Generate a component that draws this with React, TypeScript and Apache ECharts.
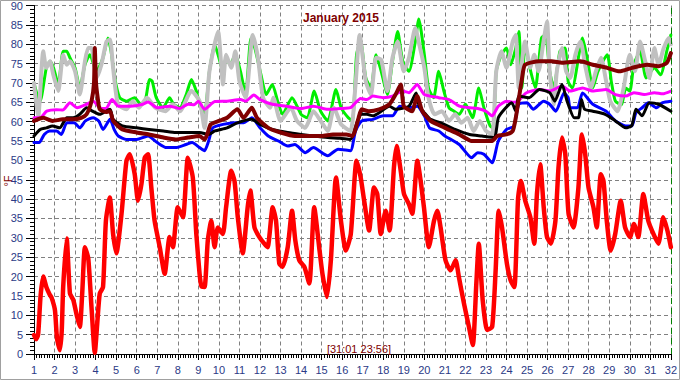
import React, { useEffect, useRef } from "react";
import * as echarts from "echarts";

const titleText = "January 2015";
const stampText = "[31:01 23:56]";
const unitText = "°F";

// [day, °F]
const greenSeries: [number, number][] = [
  [1.0, 70], [1.15, 67], [1.3, 65.3], [1.6, 73.9], [1.78, 75.6], [1.95, 73.9], [2.18, 69.6], [2.42, 78.2], [2.59, 78.2], [2.75, 76.5],
  [3.0, 73.9], [3.23, 68.7], [3.48, 74.7], [3.72, 77.3], [4.04, 73], [4.36, 76.5], [4.6, 81.6], [4.75, 78.2], [4.93, 71.3], [5.17, 66.2],
  [5.5, 65.3], [5.9, 66.2], [6.2, 64.5], [6.4, 65], [6.63, 70.9], [6.75, 70.5], [6.95, 66.2], [7.28, 63.6], [7.6, 66.2], [7.8, 64.5],
  [8.1, 63.6], [8.41, 67], [8.66, 70.9], [8.9, 67.9], [9.06, 64.5], [9.3, 62.3], [9.54, 73], [9.79, 79.9], [10.0, 76.5], [10.2, 73],
  [10.35, 76.5], [10.55, 74.7], [10.8, 77.3], [11.05, 73], [11.3, 67], [11.56, 81.6], [11.75, 79], [12.05, 72.1], [12.3, 67], [12.6, 69.6],
  [12.86, 65.3], [13.1, 61.9], [13.56, 66.2], [14.0, 61.9], [14.3, 61], [14.64, 67.9], [14.95, 62.7], [15.3, 60.2], [15.7, 68.3], [15.95, 63.6],
  [16.3, 61], [16.5, 60.2], [16.7, 77.3], [16.9, 80.7], [17.15, 71.3], [17.4, 68.7], [17.65, 77.3], [17.9, 73], [18.2, 67], [18.45, 75.6],
  [18.7, 83.3], [18.95, 75.6], [19.25, 73], [19.56, 80.7], [19.73, 86.5], [20.0, 77.3], [20.2, 68.7], [20.45, 66.2], [20.7, 73], [20.95, 67.9],
  [21.2, 63.6], [21.45, 62.7], [21.7, 61.9], [22.0, 64.5], [22.35, 61], [22.65, 68.7], [22.9, 63.6], [23.2, 58.9], [23.35, 58.4], [23.5, 73],
  [23.75, 77.3], [24.0, 79], [24.2, 74.7], [24.45, 79], [24.6, 83.3], [24.75, 68.7], [24.9, 79.8], [25.1, 74.7], [25.4, 68.7], [25.7, 81.6],
  [25.9, 82.4], [26.1, 73], [26.3, 68.7], [26.6, 78.2], [26.85, 79], [27.0, 70.4], [27.2, 68.7], [27.7, 81.6], [27.95, 75.6], [28.2, 68.7],
  [28.45, 73], [28.9, 77.3], [29.1, 70.4], [29.3, 65.3], [29.6, 64.4], [29.8, 68.7], [30.0, 67.9], [30.2, 74.7], [30.5, 78.2], [30.8, 71.3],
  [31.2, 73.9], [31.5, 72.1], [31.8, 78.2], [32.0, 82.4],
];

const graySeries: [number, number][] = [
  [1.0, 70], [1.2, 61], [1.45, 78.2], [1.6, 73.9], [1.78, 75.6], [1.94, 72.1], [2.18, 67.9], [2.42, 77.3], [2.59, 74.7], [2.75, 75.6],
  [3.0, 73], [3.23, 67], [3.48, 75.6], [3.64, 79], [3.8, 79], [4.04, 71.3], [4.28, 74.7], [4.53, 80.7], [4.7, 81.2], [4.85, 73.9],
  [5.09, 64.4], [5.5, 63.2], [5.8, 65.3], [6.1, 63.6], [6.5, 66.2], [6.9, 63.6], [7.4, 62.7], [7.75, 64.5], [8.1, 62.7], [8.66, 67.9],
  [9.06, 65.3], [9.3, 58.4], [9.54, 73], [9.96, 83.3], [10.1, 75.6], [10.2, 69.6], [10.35, 77.3], [10.6, 73.9], [10.8, 78.2], [11.0, 70.4],
  [11.3, 66.2], [11.65, 82.4], [11.9, 76.5], [12.15, 66.2], [12.5, 63.6], [12.65, 66.2], [13.0, 60.2], [13.5, 63.6], [13.8, 60.2], [14.2, 58.4],
  [14.6, 62.7], [14.95, 60.2], [15.3, 57.6], [15.6, 63.6], [15.95, 59.3], [16.4, 57.6], [16.65, 69.6], [16.85, 82.4], [17.15, 70.4], [17.4, 67],
  [17.65, 76.5], [17.9, 76], [18.2, 67.9], [18.45, 76.5], [18.7, 80.7], [19.0, 73], [19.25, 76.5], [19.56, 84.2], [19.75, 80], [20.0, 73.9],
  [20.2, 66.2], [20.5, 61.9], [20.85, 62.7], [21.2, 60.2], [21.5, 61.9], [21.8, 59.7], [22.1, 61], [22.4, 57.6], [22.7, 60.2], [23.0, 57.6],
  [23.3, 56.7], [23.5, 73], [23.75, 78.2], [24.0, 73.9], [24.3, 80.7], [24.45, 82.4], [24.6, 68.7], [24.9, 80.7], [25.16, 73.9], [25.35, 77.3],
  [25.56, 73], [25.8, 80.7], [25.97, 85.9], [26.1, 73], [26.3, 64.4], [26.45, 73], [26.7, 79], [26.9, 73], [27.1, 71.3], [27.35, 77.3],
  [27.6, 80.7], [27.85, 73.9], [28.1, 68.7], [28.35, 73], [28.6, 76.5], [28.85, 70.4], [29.05, 65.3], [29.4, 62.7], [29.7, 68.7], [30.0, 77.3],
  [30.25, 73], [30.5, 80.7], [30.75, 75.6], [30.95, 71.3], [31.2, 79], [31.4, 74.7], [31.65, 79], [31.9, 81.6], [32.0, 80],
];

const magentaSeries: [number, number][] = [
  [1.0, 61], [1.3, 61], [1.62, 62.7], [2.1, 63.1], [2.4, 63], [2.75, 64.9], [3.1, 63.6], [3.56, 64.5], [3.88, 65.3], [4.2, 63.6],
  [4.5, 63.4], [4.8, 65.7], [5.1, 64], [5.7, 64], [6.3, 64.5], [6.55, 65.1], [7.0, 63.6], [7.6, 64], [8.1, 63.4], [8.5, 64.5],
  [8.8, 64.4], [9.0, 65.3], [9.3, 63.2], [9.8, 65.2], [10.4, 65.3], [11.05, 65.7], [11.3, 65.3], [11.7, 66.9], [12.0, 65.7], [12.6, 64.5],
  [13.3, 64], [14.0, 63.4], [14.6, 64], [15.3, 63.2], [15.9, 63.4], [16.4, 63.6], [16.9, 66], [17.2, 65.7], [17.5, 66.6], [18.0, 66.2],
  [18.45, 66.6], [18.95, 67.9], [19.25, 67.5], [19.65, 69.6], [20.0, 67], [20.7, 66.2], [21.2, 65.7], [21.7, 64], [22.2, 63.6], [22.6, 63.4],
  [23.0, 62.7], [23.3, 61.5], [23.6, 64], [24.0, 65.3], [24.35, 65], [24.6, 65.5], [24.95, 67.4], [25.6, 68.3], [26.1, 67.9], [26.7, 69.2],
  [27.1, 67.9], [27.7, 68.7], [28.2, 67.9], [28.85, 68.3], [29.3, 67], [29.8, 66.6], [30.2, 67.5], [30.7, 67], [31.2, 67.5], [31.6, 67.2],
  [32.0, 67.9],
];

const blueSeries: [number, number][] = [
  [1.0, 54.6], [1.25, 54.6], [1.5, 56.7], [1.75, 57.6], [2.1, 57.6], [2.33, 56.7], [2.6, 59.7], [2.95, 59.7], [3.23, 58.4], [3.5, 60.2],
  [3.88, 61], [4.15, 60.2], [4.36, 58], [4.7, 60.6], [4.9, 58], [5.1, 56.3], [5.5, 55.4], [6.0, 55.4], [6.55, 56.3], [7.0, 54.6],
  [7.45, 53.3], [7.9, 53.3], [8.4, 54.1], [8.7, 54.6], [9.06, 53.3], [9.3, 52.5], [9.5, 55], [9.7, 58.4], [10.2, 59.3], [10.8, 59.7],
  [11.2, 59.7], [11.6, 61], [12.0, 58.4], [12.4, 56.3], [12.9, 55], [13.35, 53.7], [13.7, 54.1], [14.2, 52], [14.6, 53.3], [15.3, 51.2],
  [15.8, 52.9], [16.4, 52.5], [16.65, 57.6], [16.95, 60.2], [17.5, 60.6], [18.0, 61.5], [18.45, 61.5], [18.8, 64], [19.25, 63.6], [19.65, 64],
  [20.0, 61.5], [20.25, 58.4], [20.7, 57.6], [21.0, 56.3], [21.7, 54.1], [22.3, 50.7], [22.6, 52], [22.9, 51.6], [23.3, 49.4], [23.6, 55],
  [24.0, 58], [24.35, 58.8], [24.6, 64.5], [25.0, 64.9], [25.3, 63.2], [25.8, 65.3], [26.1, 64.5], [26.4, 62.7], [26.8, 67.4], [27.0, 66.2],
  [27.1, 63.6], [27.45, 63.6], [27.7, 67.4], [28.2, 64.5], [28.85, 62.7], [29.3, 60.2], [29.8, 58.9], [30.1, 58.9], [30.3, 62.3], [30.6, 63.6],
  [30.9, 64.9], [31.3, 63.6], [31.6, 64.9], [32.0, 65.3],
];

const blackSeries: [number, number][] = [
  [1.0, 56.3], [1.3, 58], [1.6, 58.4], [1.9, 58.9], [2.25, 58.4], [2.6, 61], [2.9, 61], [3.23, 61.9], [3.56, 63.6], [3.85, 62.7],
  [4.2, 61.9], [4.7, 63.2], [4.85, 60.6], [5.3, 58.9], [6.0, 58.4], [6.6, 58], [7.3, 57.6], [7.9, 57.2], [8.5, 57.2], [9.06, 57.2],
  [9.5, 56.7], [9.8, 57.6], [10.4, 58.4], [10.9, 59.7], [11.6, 60.6], [12.0, 59.3], [12.6, 58], [13.35, 57.2], [14.0, 56.7], [14.6, 56.3],
  [15.3, 55.9], [15.9, 55.7], [16.4, 55.4], [16.75, 60.2], [16.95, 61.9], [17.2, 61.9], [17.5, 61.5], [17.8, 62.3], [18.3, 64], [18.6, 63.2],
  [19.25, 64], [19.6, 67.4], [19.75, 64], [20.0, 62.3], [20.3, 60.6], [20.8, 59.7], [21.5, 58], [22.2, 56.7], [22.8, 56.3], [23.4, 55.9],
  [23.6, 61], [23.9, 63.2], [24.25, 64.9], [24.45, 62.7], [24.6, 66.6], [25.1, 66.2], [25.6, 68.3], [26.1, 67.5], [26.35, 65.3], [26.7, 69.6],
  [26.95, 65.3], [27.3, 61], [27.5, 61], [27.65, 65.7], [27.8, 63.2], [28.2, 62.7], [28.8, 61.9], [29.3, 60.2], [29.8, 58.4], [30.1, 59],
  [30.3, 63.2], [30.6, 61.5], [30.95, 64.9], [31.4, 64.5], [32.0, 62.7],
];

const maroonSeries: [number, number][] = [
  [1.0, 60.2], [1.45, 61], [1.9, 60.2], [2.4, 60.6], [2.9, 60.6], [3.3, 61], [3.56, 61.9], [3.8, 65.3], [3.92, 70], [3.96, 79],
  [4.02, 70], [4.1, 66.2], [4.2, 63.2], [4.5, 62.5], [4.7, 62.7], [4.85, 60.2], [5.3, 58], [6.0, 57.2], [6.6, 56.7], [7.3, 55.9],
  [7.9, 55.4], [8.5, 55.9], [9.06, 56.3], [9.3, 55.4], [9.45, 57], [9.6, 59.3], [10.0, 60.2], [10.4, 61], [10.9, 63.2], [11.2, 61],
  [11.6, 63.6], [11.85, 61], [12.4, 58.4], [13.0, 57.2], [13.7, 56.3], [15.0, 56.3], [15.55, 56.7], [16.2, 56.7], [16.5, 56.3], [16.8, 61],
  [16.95, 63.2], [17.3, 62.7], [17.8, 63.2], [18.3, 64.5], [18.6, 67], [18.85, 69.6], [19.0, 64], [19.4, 62.7], [19.65, 66.6], [19.9, 62.7],
  [20.3, 60.2], [21.0, 58.4], [21.7, 56.7], [22.3, 55], [22.9, 55], [23.3, 55], [23.55, 56.3], [24.0, 56.7], [24.3, 57.6], [24.45, 61],
  [24.6, 66], [24.75, 71], [24.9, 74.7], [25.6, 75.6], [26.2, 75.6], [26.7, 75.2], [27.6, 75.6], [28.2, 74.7], [28.9, 73.9], [29.5, 73],
  [30.1, 73.9], [30.85, 74.7], [31.4, 74.3], [31.8, 75.2], [32.0, 77.7],
];

const redSeries: [number, number][] = [
  [1.0, 4.9], [1.1, 3.8], [1.2, 5], [1.32, 15], [1.45, 20], [1.6, 17.3], [1.75, 15.5], [1.86, 14.5], [2.02, 11.3], [2.12, 4],
  [2.26, 1], [2.35, 6], [2.42, 17.3], [2.59, 29.8], [2.75, 15.6], [2.91, 14], [3.08, 10], [3.23, 7], [3.35, 16], [3.48, 27.6],
  [3.64, 24.7], [3.8, 12], [3.96, 0.3], [4.08, 8], [4.2, 15.6], [4.36, 17.3], [4.5, 34.4], [4.69, 40.4], [4.85, 31], [5.01, 26],
  [5.26, 36.2], [5.5, 49.9], [5.66, 51.6], [5.9, 46.5], [6.06, 39.6], [6.23, 43.9], [6.39, 50.7], [6.55, 51.6], [6.71, 43], [6.87, 34.4],
  [7.12, 27.6], [7.36, 20.7], [7.6, 30.2], [7.76, 27.6], [8.0, 37.9], [8.25, 35.3], [8.49, 50.7], [8.73, 45.6], [8.9, 31], [9.06, 20.7],
  [9.15, 17.5], [9.3, 17.3], [9.46, 29.3], [9.63, 34.4], [9.79, 27.6], [9.95, 32.7], [10.19, 31], [10.35, 37.9], [10.6, 47.3], [10.76, 44.7],
  [10.92, 35.3], [11.16, 26], [11.4, 37.9], [11.53, 42.2], [11.73, 32.7], [11.97, 30.2], [12.21, 28.5], [12.37, 27.6], [12.62, 37.9], [12.78, 34.4],
  [12.94, 23.3], [13.1, 22.5], [13.35, 27.6], [13.56, 37], [13.72, 29.3], [13.91, 24.2], [14.16, 22.5], [14.4, 18.2], [14.64, 37.9], [14.88, 27.6],
  [15.04, 20.7], [15.26, 14.7], [15.45, 24.2], [15.7, 45.6], [15.94, 34.4], [16.18, 26.7], [16.42, 31], [16.7, 49.9], [16.9, 45.6], [17.07, 39.6],
  [17.31, 31.9], [17.55, 43], [17.71, 41.3], [17.88, 31], [18.12, 37], [18.31, 31.9], [18.52, 48.2], [18.65, 53.7], [18.85, 47.3], [19.01, 41.3],
  [19.25, 38.7], [19.41, 36.2], [19.66, 49.9], [19.82, 44.7], [19.98, 37.9], [20.22, 27.6], [20.47, 34.4], [20.63, 37], [20.79, 32.7], [21.03, 24.2],
  [21.28, 21.6], [21.52, 24.2], [21.68, 19.9], [21.93, 13], [22.17, 7], [22.36, 2.3], [22.53, 18.2], [22.65, 28.5], [22.84, 13.9], [23.06, 6.2],
  [23.3, 7], [23.47, 21.6], [23.62, 37], [23.78, 32.7], [24.02, 23.3], [24.2, 19], [24.38, 17.3], [24.56, 40], [24.7, 44.7], [24.91, 39.6],
  [25.16, 35.3], [25.35, 28.5], [25.48, 41.3], [25.64, 49], [25.81, 37.9], [25.97, 30.2], [26.16, 28.5], [26.38, 34.4], [26.53, 48.2], [26.7, 55.9],
  [26.86, 51.6], [27.02, 36.2], [27.26, 32.7], [27.5, 43], [27.67, 56.7], [27.83, 51.6], [27.99, 43], [28.23, 37.9], [28.39, 32.7], [28.59, 46.4],
  [28.72, 44.7], [28.88, 34.4], [29.07, 26.7], [29.29, 31], [29.56, 39.6], [29.77, 32.7], [30.01, 30.2], [30.2, 33.6], [30.41, 30.2], [30.66, 41.3],
  [30.9, 34.4], [31.15, 31], [31.39, 28.5], [31.63, 35.3], [31.83, 31.9], [32.0, 27.6],
];

const FONT = "'Liberation Sans', Arial, sans-serif";
const LABEL_COLOR = "#2b3a86";
const DARK_RED = "#800000";

export default function App() {
  const ref = useRef<HTMLDivElement>(null);

  useEffect(() => {
    if (!ref.current) return;
    const chart = echarts.init(ref.current, undefined, { renderer: "svg" });

    const mk = (name: string, data: [number, number][], color: string, width: number, z: number) => ({
      name,
      type: "line",
      data,
      showSymbol: false,
      symbol: "none",
      smooth: 0.2,
      z,
      lineStyle: { color, width, join: "round", cap: "round" },
      itemStyle: { color },
      silent: true,
    });

    const option: any = {
      animation: false,
      backgroundColor: "#ffffff",
      grid: { left: 34, right: 5, top: 4, bottom: 26, containLabel: false },
      xAxis: {
        type: "value",
        min: 1,
        max: 32,
        interval: 1,
        axisLine: { show: true, onZero: false, lineStyle: { color: "#000", width: 1 } },
        axisTick: { show: true, length: 6, lineStyle: { color: "#000" } },
        minorTick: { show: true, splitNumber: 8, length: 4, lineStyle: { color: "#000" } },
        splitLine: { show: true, lineStyle: { color: "#808080", type: [4, 3], width: 1 } },
        axisLabel: { color: LABEL_COLOR, fontSize: 11, fontFamily: FONT, margin: 10, showMinLabel: true, showMaxLabel: true },
      },
      yAxis: {
        type: "value",
        min: 0,
        max: 90,
        interval: 5,
        axisLine: { show: true, lineStyle: { color: "#000", width: 1 } },
        axisTick: { show: true, length: 8, lineStyle: { color: "#000" } },
        minorTick: { show: true, splitNumber: 5, length: 4, lineStyle: { color: "#000" } },
        splitLine: { show: true, lineStyle: { color: "#808080", type: [4, 3], width: 1 } },
        axisLabel: { color: LABEL_COLOR, fontSize: 11, fontFamily: FONT, margin: 11 },
      },
      series: [
        mk("green", greenSeries, "#00ee00", 3, 2),
        mk("gray", graySeries, "#c0c0c0", 4, 3),
        mk("magenta", magentaSeries, "#ff00ff", 3, 4),
        mk("blue", blueSeries, "#0000ff", 3, 5),
        mk("black", blackSeries, "#000000", 3, 6),
        mk("maroon", maroonSeries, "#800000", 4, 7),
        {
          ...mk("red", redSeries, "#ff0000", 4.5, 8),
          markLine: {
            silent: true,
            symbol: ["none", "none"],
            label: { show: false },
            lineStyle: { color: "#008000", type: [6, 4], width: 1 },
            data: [{ xAxis: 32 }],
          },
        },
      ],
      graphic: [
        {
          type: "rect",
          shape: { x: 0.5, y: 0.5, width: 679, height: 379 },
          style: { fill: "none", stroke: "#a0a0a0", lineWidth: 1 },
          silent: true,
          z: 100,
        },
        {
          type: "text",
          x: 341,
          y: 18,
          style: {
            text: titleText,
            fill: DARK_RED,
            font: `bold 12px ${FONT}`,
            textAlign: "center",
            textVerticalAlign: "middle",
          },
          z: 100,
        },
        {
          type: "text",
          x: 359,
          y: 349,
          style: {
            text: stampText,
            fill: DARK_RED,
            font: `11px ${FONT}`,
            textAlign: "center",
            textVerticalAlign: "middle",
          },
          z: 100,
        },
        {
          type: "text",
          x: 8,
          y: 181,
          rotation: Math.PI / 2,
          style: {
            text: unitText,
            fill: DARK_RED,
            font: `11px ${FONT}`,
            textAlign: "center",
            textVerticalAlign: "middle",
          },
          z: 100,
        },
      ],
    };

    chart.setOption(option);
    return () => chart.dispose();
  }, []);

  return (
    <div
      ref={ref}
      style={{ position: "fixed", left: 0, top: 0, width: 680, height: 380, background: "#fff" }}
    />
  );
}
